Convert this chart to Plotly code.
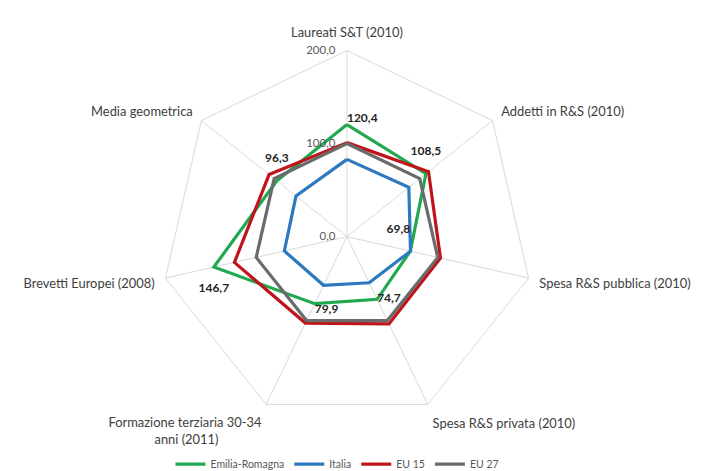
import plotly.graph_objects as go

categories = [
    "Laureati S&T (2010)",
    "Addetti in R&S (2010)",
    "Spesa R&S pubblica (2010)",
    "Spesa R&S privata (2010)",
    "Formazione terziaria 30-34<br>anni (2011)" + "&#160;" * 13,
    "Brevetti Europei (2008)",
    "Media geometrica",
]
emilia = [120.4, 108.5, 69.8, 74.7, 79.9, 146.7, 96.3]
italia = [83, 85, 70, 55, 58, 69, 70]
eu15 = [101, 112, 103, 104, 103, 124, 107]
eu27 = [100, 100, 100, 100, 100, 100, 100]
radial_ticks = [0, 100, 200]
radial_ticktext = ["0,0", "100,0", "200,0"]

# label placement for the Emilia-Romagna values (style only)
label_positions = ["top right", "top center", "top left", "middle right",
                   "bottom right", "bottom center", "top center"]
label_pad_above = [False, True, True, False, False, False, True]
label_pad_below = [False, False, False, False, False, True, False]

series = [
    ("Emilia-Romagna", emilia, "#22a84f"),
    ("Italia", italia, "#2e78c0"),
    ("EU 15", eu15, "#c0141c"),
    ("EU 27", eu27, "#6b6b6b"),
]

fig = go.Figure()
for name, vals, col in series:
    fig.add_trace(go.Scatterpolar(
        r=vals + vals[:1], theta=categories + categories[:1],
        mode="lines", name=name,
        line=dict(color=col, width=3.2),
    ))

texts = []
for v, pa, pb in zip(emilia, label_pad_above, label_pad_below):
    t = "<b>" + ("%.1f" % v).replace(".", ",") + "</b>"
    if pa:
        t = t + "<br> "
    if pb:
        t = " <br>" + t
    texts.append(t)

fig.add_trace(go.Scatterpolar(
    r=emilia, theta=categories, mode="text",
    text=texts,
    textposition=label_positions,
    textfont=dict(family="Lato", size=12, color="#262626"),
    showlegend=False, hoverinfo="skip",
))

fig.update_layout(
    width=701, height=471,
    margin=dict(l=0, r=0, t=0, b=0),
    paper_bgcolor="white",
    font=dict(family="Lato", size=10, color="#404040"),
    polar=dict(
        domain=dict(x=[0.2139, 0.7532], y=[0.1059, 0.9085]),
        gridshape="linear",
        bgcolor="white",
        angularaxis=dict(
            direction="clockwise", rotation=90,
            showline=True, linecolor="#d9d9d9", linewidth=1,
            gridcolor="#d9d9d9", gridwidth=1,
            ticks="outside", ticklen=8, tickcolor="rgba(0,0,0,0)",
            tickfont=dict(size=12.9, color="#404040"),
        ),
        radialaxis=dict(
            range=[0, 200], tickvals=radial_ticks, ticktext=radial_ticktext,
            angle=90, showline=False, gridcolor="#d9d9d9", gridwidth=1,
            ticks="outside", ticklen=7, tickcolor="rgba(0,0,0,0)",
            tickfont=dict(size=11.5, color="#595959"),
            side="counterclockwise", tickangle=90,
        ),
    ),
    legend=dict(
        orientation="h", x=0.47, xanchor="center", y=0.017, yanchor="middle",
        font=dict(size=10.5, color="#595959"), itemwidth=30,
        traceorder="normal",
    ),
)

fig.write_html("out.html")
